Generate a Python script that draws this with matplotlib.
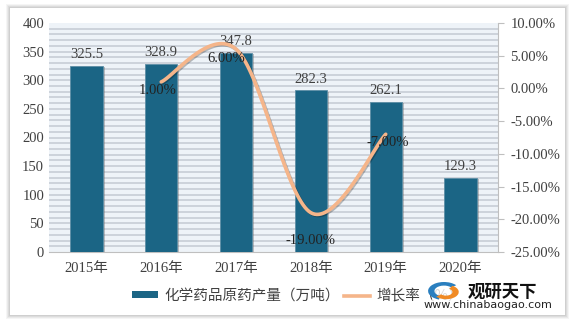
import numpy as np
import matplotlib
matplotlib.use("Agg")
import matplotlib.pyplot as plt
from matplotlib.patches import Rectangle, Patch, Wedge
from matplotlib.lines import Line2D
import matplotlib.patheffects as pe

plt.rcParams['font.family'] = ['Liberation Serif', 'Noto Sans CJK SC', 'DejaVu Sans']

# data
years = ["2015年", "2016年", "2017年", "2018年", "2019年", "2020年"]
output = [325.5, 328.9, 347.8, 282.3, 262.1, 129.3]
growth_idx = [1, 2, 3, 4]
growth = [1.0, 6.0, -19.0, -7.0]
left_ticks = [0, 50, 100, 150, 200, 250, 300, 350, 400]
right_ticks = [10, 5, 0, -5, -10, -15, -20, -25]

bar_color = "#1b6585"
line_color = "#f5b58a"
text_color = "#404040"


# smoothed line like the office "smooth line" option (catmull-rom / bezier)
def smooth_curve(xs, ys, n=40):
    pts = np.column_stack([xs, ys]).astype(float)
    padded = np.vstack([pts[0], pts, pts[-1]])
    out = []
    for i in range(1, len(padded) - 2):
        p0, p1, p2, p3 = padded[i - 1], padded[i], padded[i + 1], padded[i + 2]
        c1 = p1 + (p2 - p0) / 6
        c2 = p2 - (p3 - p1) / 6
        t = np.linspace(0, 1, n)[:, None]
        seg = ((1 - t) ** 3) * p1 + 3 * ((1 - t) ** 2) * t * c1 + 3 * (1 - t) * t ** 2 * c2 + t ** 3 * p2
        out.append(seg)
    out = np.vstack(out)
    return out[:, 0], out[:, 1]


def px(xp, yp):
    # pixel position from top-left -> figure fraction
    return xp / 573, 1 - yp / 324


fig = plt.figure(figsize=(5.73, 3.24), dpi=100)
fig.patch.set_facecolor("white")

# outer frame with shadow
for k, a in enumerate([0.08, 0.10, 0.12, 0.14]):
    off = (4 - k) * 1.0
    fig.add_artist(Rectangle(px(10 - off, 315 + off), (555 + 2 * off) / 573, (307 + 2 * off) / 324,
                             transform=fig.transFigure, facecolor="#808080",
                             edgecolor="none", alpha=a, zorder=-3))
fig.add_artist(Rectangle(px(10, 315), 555 / 573, 307 / 324,
                         transform=fig.transFigure, facecolor="white",
                         edgecolor="none", zorder=-2))

ax = fig.add_axes([49 / 573, 1 - 252 / 324, 449 / 573, 229 / 324])
ax.set_facecolor("#eef3f8")
x = np.arange(len(years))

for v in range(10, 400, 10):
    ax.axhline(v, color="#c3cad3", lw=1.1, zorder=1)

bars = ax.bar(x, output, width=0.43, color=bar_color, zorder=3,
              edgecolor="#5d8ea6", linewidth=0.6)
for b in bars:
    b.set_path_effects([pe.SimplePatchShadow(offset=(1.5, -1), shadow_rgbFace="#555555", alpha=0.35),
                        pe.Normal()])

for xi, v in zip(x, output):
    ax.text(xi, v + 8, f"{v:.1f}", ha="center", va="bottom", fontsize=10.5,
            color=text_color, zorder=6)

ax.set_xlim(-0.5, 5.5)
ax.set_ylim(0, 400)
ax.set_yticks(left_ticks)
ax.set_xticks(x)
ax.set_xticklabels(years)
ax.tick_params(axis="both", length=0, labelsize=10.5, colors=text_color)
ax.tick_params(axis="x", pad=7)
for s in ["top", "right", "left"]:
    ax.spines[s].set_visible(False)
ax.spines["bottom"].set_color("#bfbfbf")

ax2 = ax.twinx()
ax2.set_ylim(-25, 10)
ax2.set_yticks(right_ticks)
ax2.set_yticklabels([f"{t:.2f}%" for t in right_ticks])
ax2.tick_params(axis="y", length=4, labelsize=10.5, colors=text_color, pad=5)
ax2.tick_params(axis="y", color="#bfbfbf")
for s in ["top", "left", "bottom"]:
    ax2.spines[s].set_visible(False)
ax2.spines["right"].set_color("#bfbfbf")

sx, sy = smooth_curve(growth_idx, growth)
ax2.plot(sx, sy, color=line_color, lw=2.6, solid_capstyle="round", zorder=5,
         path_effects=[pe.SimpleLineShadow(offset=(0.8, -0.8), alpha=0.25), pe.Normal()])

# label placement relative to each point (category units, percent units)
label_dx = [-0.05, -0.13, 0.0, 0.03]
label_dy = [-1.3, -1.5, -4.3, -1.3]
for xi, g, dx, dy in zip(growth_idx, growth, label_dx, label_dy):
    ax2.text(xi + dx, g + dy, f"{g:.2f}%", ha="center", va="center", fontsize=10.5,
             color="#222222", zorder=7)

handles = [Patch(facecolor=bar_color, edgecolor="none"),
           Line2D([0], [0], color=line_color, lw=2.6)]
leg = fig.legend(handles, ["化学药品原药产量（万吨）", "增长率（%）"], ncol=2,
                 loc="center left", bbox_to_anchor=px(127, 296), borderaxespad=0,
                 frameon=True, fontsize=10.5, handlelength=1.8, columnspacing=0.3,
                 handletextpad=0.4, handleheight=0.35, borderpad=0.35)
leg.get_frame().set_edgecolor("none")
leg.get_frame().set_facecolor("white")
for t in leg.get_texts():
    t.set_color(text_color)
    t.set_family(['Noto Sans CJK SC', 'DejaVu Sans'])

# watermark logo
lx, ly = px(444, 291)
fig.add_artist(Rectangle(px(432, 312), 116 / 573, 32 / 324, transform=fig.transFigure,
                         facecolor="white", edgecolor="none", alpha=0.8, zorder=8))
r = 9 / 324
fig.add_artist(Wedge((lx, ly), r, 40, 250, width=r * 0.4, transform=fig.transFigure,
                     facecolor="#2a7fbf", edgecolor="none", zorder=9))
fig.add_artist(Wedge((lx + 2 / 573, ly - 1 / 324), r * 0.8, 220, 60, width=r * 0.4,
                     transform=fig.transFigure, facecolor="#f08a24", edgecolor="none", zorder=9))
fig.text(*px(503, 292), "观研天下", fontsize=12.5, fontweight="bold",
         color="#111111", ha="center", va="center", family="Noto Sans CJK SC", zorder=10)
fig.text(*px(488, 305), "www.chinabaogao.com", fontsize=8,
         color="#222222", ha="center", va="center", family="DejaVu Sans", zorder=10)

fig.savefig("out.png", dpi=100)
